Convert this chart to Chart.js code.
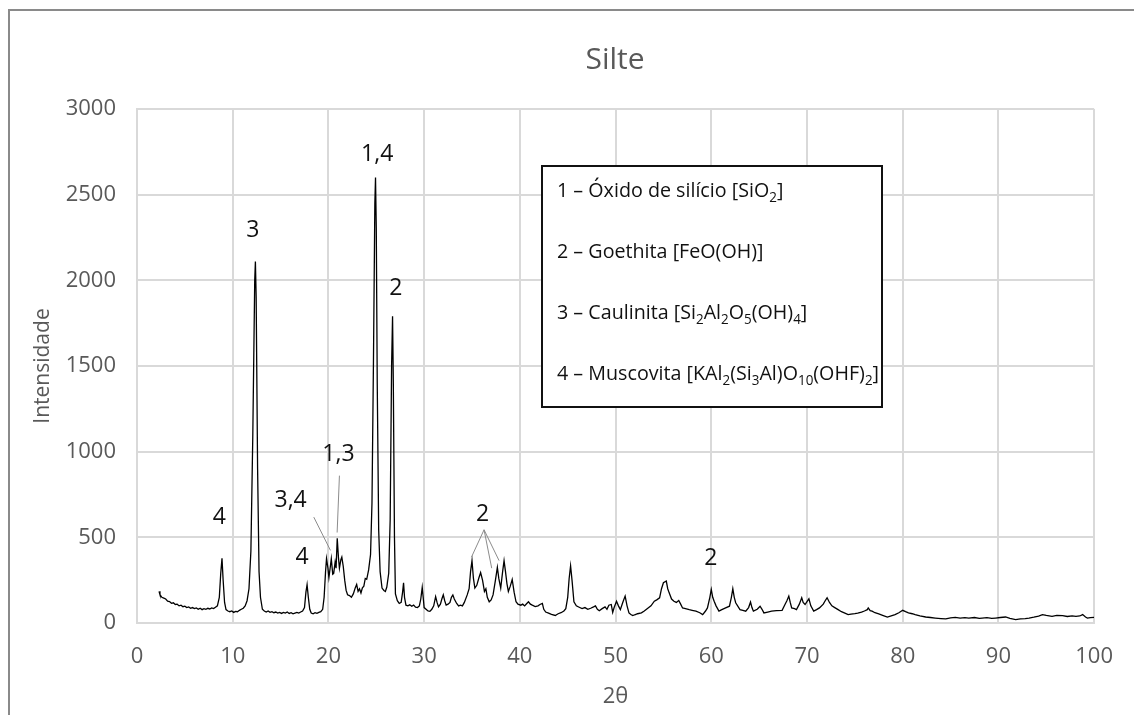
<!DOCTYPE html>
<html>
<head>
<meta charset="utf-8">
<title>Silte</title>
<script src="https://cdn.jsdelivr.net/npm/chart.js@4.4.1/dist/chart.umd.min.js"></script>
<style>
  html, body { margin: 0; padding: 0; background: #ffffff; }
  canvas { display: block; }
</style>
</head>
<body>
<canvas id="xrd" width="1134" height="715"></canvas>
<script>
// Diffractogram of the silt sample: 2θ (degrees) and measured intensity
const twoTheta = [
  2.3, 2.4, 2.6, 2.8, 3.0, 3.2, 3.4, 3.6, 3.8, 4.0, 4.2, 4.4, 4.6, 4.8, 5.0, 5.2, 5.4, 5.6, 5.8, 6.0,
  6.2, 6.4, 6.6, 6.8, 7.0, 7.2, 7.4, 7.6, 7.8, 8.0, 8.2, 8.4, 8.6, 8.75, 8.88, 9.0, 9.15, 9.3, 9.5, 9.7,
  9.9, 10.1, 10.3, 10.5, 10.7, 10.9, 11.1, 11.3, 11.5, 11.7, 11.9, 12.1, 12.3, 12.37, 12.45, 12.6, 12.75, 12.9, 13.1, 13.3,
  13.5, 13.7, 13.9, 14.1, 14.3, 14.5, 14.7, 14.9, 15.1, 15.3, 15.5, 15.7, 15.9, 16.1, 16.3, 16.5, 16.7, 16.9, 17.1, 17.3,
  17.5, 17.65, 17.77, 17.9, 18.05, 18.2, 18.4, 18.6, 18.8, 19.0, 19.2, 19.4, 19.55, 19.7, 19.8, 19.95, 20.05, 20.2, 20.3, 20.45,
  20.55, 20.7, 20.8, 20.92, 21.05, 21.15, 21.3, 21.4, 21.55, 21.7, 21.85, 22.0, 22.2, 22.4, 22.6, 22.8, 22.95, 23.1, 23.25, 23.4,
  23.55, 23.7, 23.85, 24.0, 24.2, 24.4, 24.55, 24.7, 24.85, 24.92, 25.0, 25.1, 25.25, 25.4, 25.6, 25.8, 25.95, 26.1, 26.3, 26.45,
  26.6, 26.7, 26.78, 26.9, 27.0, 27.2, 27.4, 27.6, 27.75, 27.85, 27.95, 28.1, 28.3, 28.5, 28.7, 28.9, 29.1, 29.3, 29.5, 29.65,
  29.8, 29.9, 30.0, 30.2, 30.4, 30.6, 30.8, 31.0, 31.2, 31.35, 31.5, 31.7, 31.85, 32.0, 32.15, 32.3, 32.5, 32.7, 32.85, 33.0,
  33.15, 33.4, 33.6, 33.8, 34.0, 34.2, 34.5, 34.7, 34.85, 35.0, 35.15, 35.3, 35.5, 35.7, 35.9, 36.1, 36.3, 36.45, 36.6, 36.8,
  37.0, 37.2, 37.45, 37.65, 37.8, 38.0, 38.2, 38.35, 38.5, 38.65, 38.8, 39.0, 39.2, 39.4, 39.6, 39.8, 40.1, 40.3, 40.5, 40.7,
  40.9, 41.1, 41.3, 41.6, 41.9, 42.1, 42.35, 42.5, 42.7, 43.0, 43.3, 43.7, 44.0, 44.3, 44.6, 44.8, 45.0, 45.15, 45.3, 45.45,
  45.65, 45.9, 46.2, 46.5, 46.8, 47.1, 47.4, 47.7, 47.9, 48.1, 48.3, 48.6, 48.9, 49.1, 49.3, 49.55, 49.7, 49.85, 50.1, 50.3,
  50.5, 50.75, 51.0, 51.2, 51.4, 51.6, 51.8, 52.0, 52.3, 52.7, 53.0, 53.4, 53.7, 54.05, 54.3, 54.6, 54.8, 55.0, 55.3, 55.45,
  55.6, 55.85, 56.1, 56.35, 56.6, 56.8, 57.0, 57.3, 57.7, 58.0, 58.4, 58.8, 59.1, 59.4, 59.6, 59.85, 60.0, 60.15, 60.3, 60.5,
  60.8, 61.1, 61.5, 61.9, 62.1, 62.25, 62.4, 62.55, 63.0, 63.3, 63.6, 63.9, 64.1, 64.25, 64.4, 64.8, 65.1, 65.3, 65.5, 65.9,
  66.3, 66.8, 67.4, 67.7, 67.9, 68.1, 68.25, 68.4, 68.7, 68.9, 69.2, 69.45, 69.6, 69.8, 70.0, 70.2, 70.4, 70.7, 71.0, 71.3,
  71.7, 71.9, 72.1, 72.35, 72.6, 72.9, 73.25, 73.6, 73.9, 74.3, 74.6, 75.0, 75.3, 75.7, 76.0, 76.3, 76.4, 76.6, 76.8, 77.1,
  77.5, 77.9, 78.4, 78.8, 79.2, 79.6, 80.0, 80.3, 80.6, 81.0, 81.3, 81.8, 82.4, 82.9, 83.4, 84.0, 84.5, 85.0, 85.5, 86.0,
  86.5, 86.9, 87.5, 88.0, 88.3, 88.8, 89.3, 89.7, 90.2, 90.75, 91.2, 91.8, 92.3, 92.8, 93.2, 93.7, 94.2, 94.6, 95.0, 95.6,
  96.1, 96.7, 97.2, 97.7, 98.1, 98.5, 98.8, 99.1, 99.3, 99.6, 100.0
];
const intensity = [
  185, 165, 150, 145, 140, 128, 125, 115, 118, 108, 110, 100, 104, 95, 98, 90, 94, 86, 90, 84,
  88, 80, 86, 78, 84, 80, 86, 82, 88, 84, 92, 100, 150, 290, 378, 250, 120, 78, 70, 66,
  70, 62, 68, 66, 74, 80, 86, 100, 130, 200, 420, 1100, 2000, 2110, 1900, 900, 300, 150, 80, 70,
  64, 70, 62, 66, 60, 64, 58, 62, 56, 62, 58, 64, 56, 60, 54, 58, 62, 58, 64, 70,
  90, 180, 224, 150, 80, 58, 54, 60, 56, 62, 66, 80, 150, 300, 375, 320, 265, 330, 375, 285,
  290, 355, 320, 494, 380, 320, 370, 385, 330, 250, 190, 165, 160, 150, 170, 205, 225, 185, 200, 175,
  205, 215, 260, 255, 310, 400, 700, 1500, 2450, 2600, 2300, 1400, 544, 300, 204, 190, 184, 210, 290, 600,
  1500, 1790, 1400, 500, 170, 130, 114, 120, 180, 234, 150, 104, 100, 106, 98, 104, 92, 90, 100, 140,
  208, 150, 90, 80, 70, 68, 80, 100, 154, 120, 94, 110, 140, 164, 130, 104, 110, 120, 150, 164,
  140, 114, 100, 104, 100, 120, 164, 200, 300, 364, 260, 204, 220, 260, 294, 250, 184, 200, 150, 124,
  135, 164, 250, 324, 260, 204, 300, 364, 300, 230, 184, 215, 254, 180, 124, 110, 104, 110, 100, 112,
  124, 110, 104, 96, 100, 108, 114, 80, 64, 58, 50, 44, 54, 60, 70, 84, 150, 260, 334, 250,
  124, 100, 92, 84, 90, 80, 86, 94, 100, 80, 72, 84, 94, 80, 104, 108, 62, 90, 127, 100,
  78, 120, 157, 100, 59, 50, 43, 48, 54, 59, 70, 88, 100, 127, 135, 147, 200, 235, 245, 200,
  176, 140, 127, 120, 131, 110, 88, 84, 78, 74, 69, 60, 49, 70, 88, 150, 196, 150, 127, 100,
  69, 78, 88, 98, 150, 200, 150, 118, 78, 74, 69, 90, 122, 90, 69, 80, 98, 80, 59, 64,
  69, 72, 74, 108, 130, 157, 120, 88, 84, 78, 110, 147, 120, 108, 125, 141, 100, 69, 78, 88,
  110, 130, 147, 120, 100, 90, 78, 66, 59, 49, 52, 55, 58, 63, 70, 78, 88, 72, 69, 60,
  53, 45, 35, 42, 49, 60, 74, 66, 59, 54, 49, 42, 35, 32, 29, 26, 24, 30, 33, 28,
  31, 29, 32, 27, 29, 31, 27, 29, 32, 35, 27, 20, 24, 26, 29, 34, 40, 49, 44, 39,
  45, 43, 38, 42, 39, 41, 49, 35, 29, 31, 33
];

// Axis ticks
const xTickValues = [0, 10, 20, 30, 40, 50, 60, 70, 80, 90, 100];
const yTickValues = [0, 500, 1000, 1500, 2000, 2500, 3000];

// Phase numbers written over the peaks (data coordinates of each label centre)
const peakLabels = ["4", "3", "1,4", "2", "3,4", "1,3", "4", "2", "2"];
const peakLabelX = [8.6, 12.1, 25.1, 27.05, 16.05, 21.05, 17.25, 36.1, 59.95];
const peakLabelY = [614, 2294, 2734, 1954, 714, 984, 384, 634, 376];

// Thin pointer lines from labels to their peaks
const leaderX1 = [18.47, 21.15, 36.26, 36.26, 36.26];
const leaderY1 = [618, 860, 544, 544, 544];
const leaderX2 = [20.21, 20.91, 34.94, 37.06, 37.83];
const leaderY2 = [424, 528, 384, 320, 364];

// Phase key (text inside _{ } is set as subscript)
const phaseKey = [
  "1 – Óxido de silício [SiO_{2}]",
  "2 – Goethita [FeO(OH)]",
  "3 – Caulinita [Si_{2}Al_{2}O_{5}(OH)_{4}]",
  "4 – Muscovita [KAl_{2}(Si_{3}Al)O_{10}(OHF)_{2}]"
];

const chartTitle = "Silte";
const xTitle = "2θ";
const yTitle = "Intensidade";

const FONT = "'Open Sans', 'Noto Sans', sans-serif";
const points = twoTheta.map((x, i) => ({ x: x, y: intensity[i] }));

function splitRich(str) {
  const parts = [];
  const re = /_\{([^}]*)\}/g;
  let last = 0, m;
  while ((m = re.exec(str)) !== null) {
    if (m.index > last) parts.push({ t: str.slice(last, m.index), sub: false });
    parts.push({ t: m[1], sub: true });
    last = re.lastIndex;
  }
  if (last < str.length) parts.push({ t: str.slice(last), sub: false });
  return parts;
}

const decorations = {
  id: 'decorations',
  beforeDraw(chart) {
    const ctx = chart.ctx;
    ctx.save();
    ctx.fillStyle = '#ffffff';
    ctx.fillRect(0, 0, chart.width, chart.height);
    // outer frame (top and left edges)
    ctx.strokeStyle = '#8a8a8a';
    ctx.lineWidth = 2;
    ctx.beginPath();
    ctx.moveTo(9, chart.height);
    ctx.lineTo(9, 10);
    ctx.lineTo(chart.width, 10);
    ctx.stroke();
    // title
    ctx.fillStyle = '#595959';
    ctx.font = "30px " + FONT;
    ctx.textAlign = 'center';
    ctx.textBaseline = 'middle';
    ctx.fillText(chartTitle, 615, 60);
    ctx.restore();
  },
  afterDatasetsDraw(chart) {
    const ctx = chart.ctx;
    const xs = chart.scales.x, ys = chart.scales.y;
    ctx.save();
    // pointer lines
    ctx.strokeStyle = '#8c8c8c';
    ctx.lineWidth = 1;
    for (let i = 0; i < leaderX1.length; i++) {
      ctx.beginPath();
      ctx.moveTo(xs.getPixelForValue(leaderX1[i]), ys.getPixelForValue(leaderY1[i]));
      ctx.lineTo(xs.getPixelForValue(leaderX2[i]), ys.getPixelForValue(leaderY2[i]));
      ctx.stroke();
    }
    // peak labels
    ctx.fillStyle = '#111111';
    ctx.font = "23px " + FONT;
    ctx.textAlign = 'center';
    ctx.textBaseline = 'middle';
    for (let i = 0; i < peakLabels.length; i++) {
      ctx.fillText(peakLabels[i], xs.getPixelForValue(peakLabelX[i]), ys.getPixelForValue(peakLabelY[i]));
    }
    // phase key box
    const bx = 542, by = 166, bw = 340, bh = 241;
    ctx.fillStyle = '#ffffff';
    ctx.fillRect(bx, by, bw, bh);
    ctx.strokeStyle = '#111111';
    ctx.lineWidth = 2;
    ctx.strokeRect(bx, by, bw, bh);
    ctx.fillStyle = '#111111';
    ctx.textAlign = 'left';
    ctx.textBaseline = 'alphabetic';
    const baselines = [197, 258, 319, 380];
    const condense = 0.96;
    phaseKey.forEach((line, i) => {
      ctx.save();
      ctx.translate(557, baselines[i]);
      ctx.scale(condense, 1);
      let x = 0;
      splitRich(line).forEach(p => {
        ctx.font = (p.sub ? "14px " : "20.5px ") + FONT;
        ctx.fillText(p.t, x, p.sub ? 5 : 0);
        x += ctx.measureText(p.t).width;
      });
      ctx.restore();
    });
    ctx.restore();
  }
};

new Chart(document.getElementById('xrd'), {
  type: 'line',
  data: {
    datasets: [{
      data: points,
      borderColor: '#000000',
      borderWidth: 1.3,
      pointRadius: 0,
      tension: 0,
      fill: false
    }]
  },
  options: {
    responsive: false,
    devicePixelRatio: 1,
    animation: false,
    events: [],
    layout: { padding: { top: 109, left: 25, right: 39, bottom: 0 } },
    plugins: {
      legend: { display: false },
      title: { display: false },
      tooltip: { enabled: false }
    },
    scales: {
      x: {
        type: 'linear',
        min: 0,
        max: 100,
        afterBuildTicks: s => { s.ticks = xTickValues.map(v => ({ value: v })); },
        afterFit: s => { s.height = 92; },
        grid: { color: '#d9d9d9', lineWidth: 2, drawTicks: false },
        border: { color: '#d9d9d9', width: 2 },
        ticks: { color: '#595959', font: { family: FONT, size: 22 }, padding: 21, maxRotation: 0,
                 callback: v => String(v) },
        title: { display: true, text: xTitle, color: '#595959', font: { family: FONT, size: 22 }, padding: { top: 0, bottom: 5 } }
      },
      y: {
        min: 0,
        max: 3000,
        afterBuildTicks: s => { s.ticks = yTickValues.map(v => ({ value: v })); },
        afterFit: s => { s.width = 137 - 25; },
        grid: { color: '#d9d9d9', lineWidth: 2, drawTicks: false },
        border: { color: '#d9d9d9', width: 2 },
        ticks: { color: '#595959', font: { family: FONT, size: 22 }, padding: 21,
                 callback: v => String(v) },
        title: { display: true, text: yTitle, color: '#595959', font: { family: FONT, size: 21 }, padding: { top: 5, bottom: 0 } }
      }
    }
  },
  plugins: [decorations]
});
</script>
</body>
</html>
